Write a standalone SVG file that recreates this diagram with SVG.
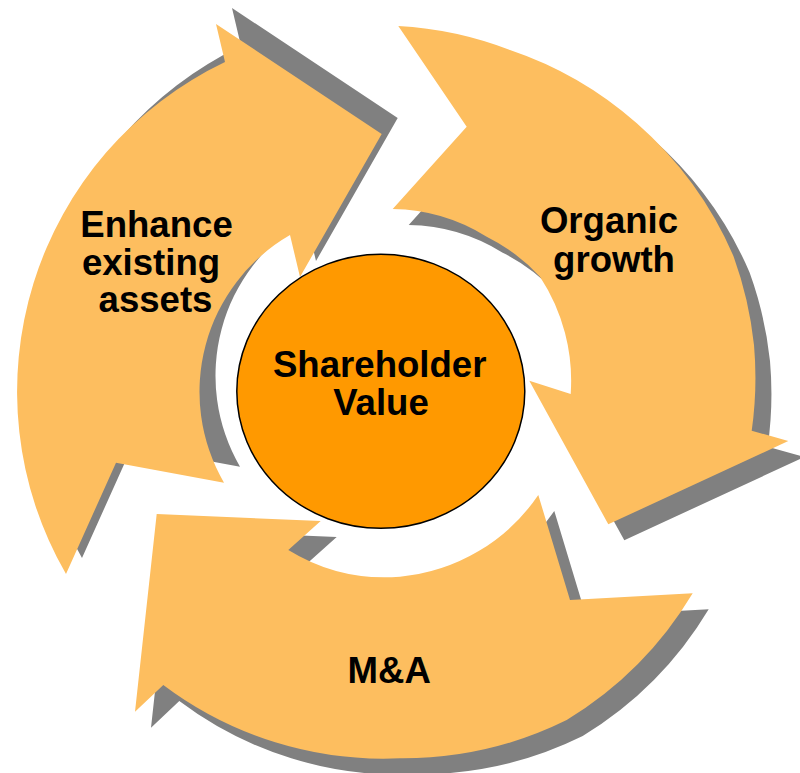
<svg xmlns="http://www.w3.org/2000/svg" width="800" height="773" viewBox="0 0 800 773">
<style>
.arrow{fill:#FDBE5F}
.shadow{fill:#808080}
.hub{fill:#FF9900;stroke:#000;stroke-width:1.5}
.lbl{font-family:"Liberation Sans",Arial,sans-serif;font-weight:bold;font-size:36.6px;fill:#000;text-anchor:middle}
</style>
<defs>
<path id="pE" d="M216,24 L381.7,134 L300,277 L290,235 A181 181 0 0 0 224,482.7 L116,462.7 L66,574 A365 365 0 0 1 225,62 Z"/>
<path id="pO" d="M398.3,26 A366 366 0 0 1 510,50 A370 370 0 0 1 636.8,123.3 A374 374 0 0 1 733.6,256.4 A376 376 0 0 1 754,345 A376 376 0 0 1 751.7,430.7 L788.3,441 L608.3,524.3 L529.3,380.7 L570.7,394 A190 190 0 0 0 540,276.7 A185 185 0 0 0 486.7,236.7 A183 183 0 0 0 392.7,209 L466.7,126.7 Z"/>
<path id="pM" d="M692.7,593.3 A372 372 0 0 1 566.7,720 A370 370 0 0 1 400,758.3 A366 366 0 0 1 163.3,685 L135,711.7 L156.7,514 L320.7,521 L288.3,550 A185 185 0 0 0 400,576.7 A188 188 0 0 0 538.3,495 L570,600 Z"/>
</defs>
<g id="connectors"></g>
<g id="shadows">
<use href="#pE" class="shadow" transform="translate(16,-16)"/>
<use href="#pO" class="shadow" transform="translate(16,16)"/>
<use href="#pM" class="shadow" transform="translate(16,16)"/>
</g>
<g id="enhance">
<use href="#pE" class="arrow"/>
<text class="lbl" x="156.5" y="236.7">Enhance</text>
<text class="lbl" x="151" y="275">existing</text>
<text class="lbl" x="155.5" y="311.7">assets</text>
</g>
<g id="organic">
<use href="#pO" class="arrow"/>
<text class="lbl" x="609" y="233.3">Organic</text>
<text class="lbl" x="614" y="272">growth</text>
</g>
<g id="ma">
<use href="#pM" class="arrow"/>
<text class="lbl" x="389.2" y="683.3">M&amp;A</text>
</g>
<g id="hub">
<ellipse class="hub" cx="380.8" cy="391.3" rx="144" ry="137"/>
<text class="lbl" x="379.7" y="376.7">Shareholder</text>
<text class="lbl" x="381" y="415">Value</text>
</g>
</svg>
